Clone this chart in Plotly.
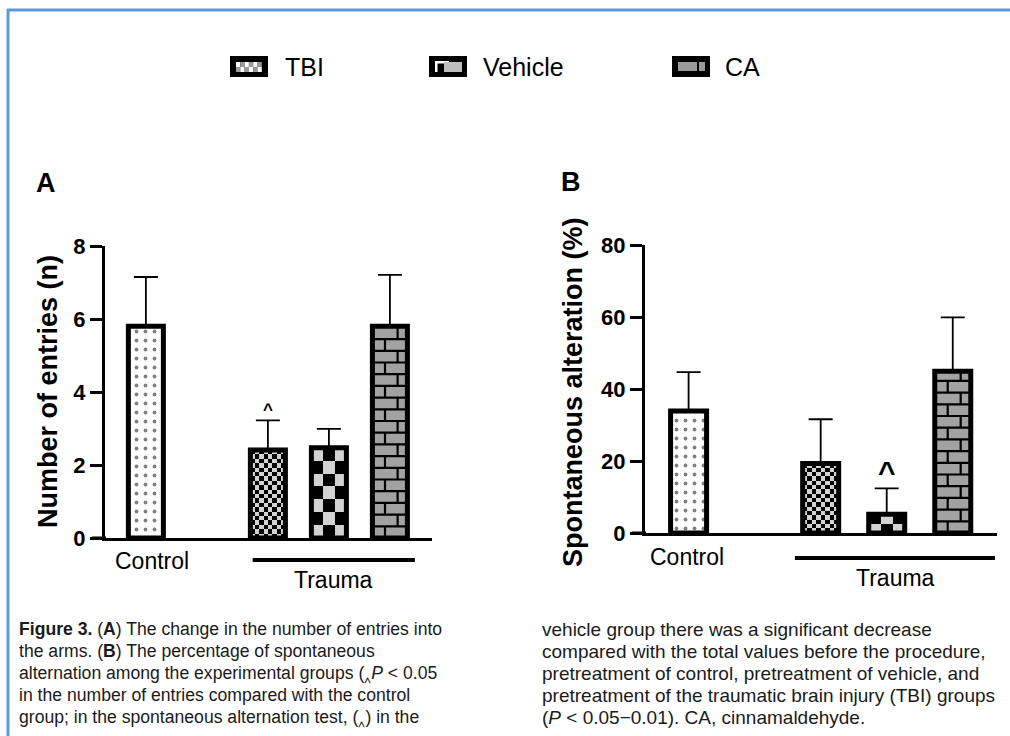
import numpy as np
import plotly.graph_objects as go

W, H = 1010, 736

# ---------------- data ----------------
groups = ["Control", "TBI", "Vehicle", "CA"]
group_pos = [0, 2, 3, 4]
entries_mean = [5.80, 2.41, 2.47, 5.80]
entries_err = [1.35, 0.81, 0.52, 1.41]
alt_mean = [33.9, 19.3, 5.2, 44.9]
alt_err = [10.8, 12.3, 7.2, 15.0]
ticks_a = [0, 2, 4, 6, 8]
ticks_b = [0, 20, 40, 60, 80]
sig_a = ["", "^", "", ""]
sig_b = ["", "", "^", ""]
legend_items = ["TBI", "Vehicle", "CA"]
caption_left = [
    "<b>Figure 3.</b> (<b>A</b>) The change in the number of entries into",
    "the arms. (<b>B</b>) The percentage of spontaneous",
    "alternation among the experimental groups (\u2038<i>P</i> < 0.05",
    "in the number of entries compared with the control",
    "group; in the spontaneous alternation test, (\u2038) in the",
]
caption_right = [
    "vehicle group there was a significant decrease",
    "compared with the total values before the procedure,",
    "pretreatment of control, pretreatment of vehicle, and",
    "pretreatment of the traumatic brain injury (TBI) groups",
    "(<i>P</i> < 0.05\u22120.01). CA, cinnamaldehyde.",
]


def X(px):
    return px / W


def Y(py):
    return 1 - py / H


ARIAL = "Liberation Sans, Arial, Helvetica, sans-serif"
CHECK_LIGHT = "#d2d2d2"
BRICK_GRAY = "#a2a2a2"

panels = [
    dict(name="A", xa="x", ya="y", xdom=(105, 432), ydom=(538, 246), xr=(-0.67, 4.69),
         yr=(0, 8), ticks=ticks_a, mean=entries_mean, err=entries_err, sig=sig_a,
         bw=0.574, title="Number of entries (n)", title_x=48, letter_xy=(46, 183),
         trauma=(1.75, 4.41, 560), ctrl_lab=(0.1, 561), trauma_lab=(3.07, 580),
         sig_size=17, sig_shift=11, vcell=12.5),
    dict(name="B", xa="x2", ya="y2", xdom=(645, 997), ydom=(533, 245), xr=(-0.66, 4.67),
         yr=(0, 80), ticks=ticks_b, mean=alt_mean, err=alt_err, sig=sig_b,
         bw=0.545, title="Spontaneous alteration (%)", title_x=573, letter_xy=(571, 182),
         trauma=(1.61, 4.64, 558), ctrl_lab=(-0.02, 557), trauma_lab=(3.13, 578),
         sig_size=30, sig_shift=17, vcell=11),
]

fig = go.Figure()
shapes = []
annotations = []

for p in panels:
    ppx = (p["xdom"][1] - p["xdom"][0]) / (p["xr"][1] - p["xr"][0])
    ppy = (p["ydom"][0] - p["ydom"][1]) / (p["yr"][1] - p["yr"][0])
    bw = p["bw"]
    for i, g in enumerate(groups):
        xc = group_pos[i]
        v = p["mean"][i]
        if g in ("TBI", "Vehicle"):
            cell = 4.4 if g == "TBI" else p["vcell"]
            ncol = max(1, int(round(bw * ppx / cell)))
            nrow = max(1, int(round(v * ppy / cell)))
            xe = np.linspace(xc - bw / 2, xc + bw / 2, ncol + 1)
            ye = np.linspace(0, v, nrow + 1)
            z = [[(r + c) % 2 for c in range(ncol)] for r in range(nrow)]
            fig.add_trace(go.Heatmap(x=xe, y=ye, z=z, zmin=0, zmax=1,
                                     colorscale=[[0, CHECK_LIGHT], [1, "black"]],
                                     showscale=False, hoverinfo="skip",
                                     xaxis=p["xa"], yaxis=p["ya"]))
        if g == "Control":
            marker = dict(color="white", line=dict(color="black", width=5),
                          pattern=dict(shape=".", fgcolor="black", bgcolor="white",
                                       size=9, solidity=0.14))
        elif g == "CA":
            marker = dict(color=BRICK_GRAY, line=dict(color="black", width=5))
        else:
            marker = dict(color="rgba(0,0,0,0)", line=dict(color="black", width=5))
        fig.add_trace(go.Bar(x=[xc], y=[v], width=bw, marker=marker,
                             error_y=dict(type="data", array=[p["err"][i]], arrayminus=[0],
                                          symmetric=False, color="black", thickness=1.8,
                                          width=12),
                             showlegend=False, hoverinfo="skip",
                             xaxis=p["xa"], yaxis=p["ya"]))
        if g == "CA":
            rh = 11.7 / ppy
            xs, ys = [], []
            k = 1
            while k * rh < v - 0.2 * rh:
                xs += [xc - bw / 2, xc + bw / 2, None]
                ys += [k * rh, k * rh, None]
                k += 1
            for r in range(k):
                y0 = r * rh
                y1 = min((r + 1) * rh, v)
                fx = 0.36 if r % 2 == 0 else 0.72
                xv = xc - bw / 2 + fx * bw
                xs += [xv, xv, None]
                ys += [y0, y1, None]
            fig.add_trace(go.Scatter(x=xs, y=ys, mode="lines",
                                     line=dict(color="black", width=2.2),
                                     showlegend=False, hoverinfo="skip",
                                     xaxis=p["xa"], yaxis=p["ya"]))
        if p["sig"][i]:
            annotations.append(dict(x=xc, y=v + p["err"][i], xref=p["xa"], yref=p["ya"],
                                    text="<b>^</b>", showarrow=False, yanchor="middle",
                                    yshift=p["sig_shift"],
                                    font=dict(family=ARIAL, size=p["sig_size"], color="black")))
    shapes.append(dict(type="line", xref="paper", yref="paper",
                       x0=X(p["xdom"][0] - 13), x1=X(p["xdom"][0] + 1),
                       y0=Y(p["ydom"][0]), y1=Y(p["ydom"][0]),
                       line=dict(color="black", width=3)))
    t0, t1, ty = p["trauma"]
    shapes.append(dict(type="line", xref=p["xa"], yref="paper", x0=t0, x1=t1,
                       y0=Y(ty), y1=Y(ty), line=dict(color="black", width=4)))
    annotations.append(dict(x=p["ctrl_lab"][0], y=Y(p["ctrl_lab"][1]), xref=p["xa"], yref="paper",
                            text="Control", showarrow=False, yanchor="middle",
                            font=dict(family=ARIAL, size=23, color="black")))
    annotations.append(dict(x=p["trauma_lab"][0], y=Y(p["trauma_lab"][1]), xref=p["xa"], yref="paper",
                            text="Trauma", showarrow=False, yanchor="middle",
                            font=dict(family=ARIAL, size=23, color="black")))
    annotations.append(dict(x=X(p["title_x"]), y=Y(392), xref="paper", yref="paper",
                            text=p["title"], textangle=-90, showarrow=False,
                            xanchor="center", yanchor="middle",
                            font=dict(family=ARIAL, size=27, color="black", weight="bold")))
    annotations.append(dict(x=X(p["letter_xy"][0]), y=Y(p["letter_xy"][1]), xref="paper", yref="paper",
                            text="<b>%s</b>" % p["name"], showarrow=False,
                            xanchor="center", yanchor="middle",
                            font=dict(family=ARIAL, size=27, color="black")))

# legend drawn manually
leg = [(230, 283), (429, 481), (672, 723)]
for (sx, tx), name in zip(leg, legend_items):
    shapes.append(dict(type="rect", xref="paper", yref="paper", x0=X(sx), x1=X(sx + 38),
                       y0=Y(77), y1=Y(56), fillcolor="black", line=dict(width=0)))
    if name == "TBI":
        for c in range(6):
            for r in range(2):
                col = "white" if (c + r) % 2 == 0 else "#9a9a9a"
                shapes.append(dict(type="rect", xref="paper", yref="paper",
                                   x0=X(sx + 6 + c * 4.3), x1=X(sx + 6 + (c + 1) * 4.3),
                                   y0=Y(62 + (r + 1) * 5), y1=Y(62 + r * 5),
                                   fillcolor=col, line=dict(width=0)))
    elif name == "Vehicle":
        shapes.append(dict(type="rect", xref="paper", yref="paper", x0=X(sx + 6), x1=X(sx + 20),
                           y0=Y(72), y1=Y(61), fillcolor="white", line=dict(width=0)))
        shapes.append(dict(type="rect", xref="paper", yref="paper", x0=X(sx + 8.5), x1=X(sx + 20),
                           y0=Y(72), y1=Y(63.5), fillcolor="black", line=dict(width=0)))
        shapes.append(dict(type="rect", xref="paper", yref="paper", x0=X(sx + 15), x1=X(sx + 33),
                           y0=Y(72), y1=Y(62), fillcolor="#bdbdbd", line=dict(width=0)))
    else:
        shapes.append(dict(type="rect", xref="paper", yref="paper", x0=X(sx + 6), x1=X(sx + 25),
                           y0=Y(71), y1=Y(62), fillcolor="#9a9a9a", line=dict(width=0)))
        shapes.append(dict(type="rect", xref="paper", yref="paper", x0=X(sx + 27), x1=X(sx + 33),
                           y0=Y(71), y1=Y(62), fillcolor="#9a9a9a", line=dict(width=0)))
    annotations.append(dict(x=X(tx), y=Y(67), xref="paper", yref="paper", text=name,
                            showarrow=False, xanchor="left", yanchor="middle",
                            font=dict(family=ARIAL, size=25, color="black")))

# caption
for k, line in enumerate(caption_left):
    annotations.append(dict(x=X(17), y=Y(629 + 22 * k), xref="paper", yref="paper", text=line,
                            showarrow=False, xanchor="left", yanchor="middle",
                            font=dict(family=ARIAL, size=17.6, color="#1a1a1a")))
for k, line in enumerate(caption_right):
    annotations.append(dict(x=X(540), y=Y(629 + 22 * k), xref="paper", yref="paper", text=line,
                            showarrow=False, xanchor="left", yanchor="middle",
                            font=dict(family=ARIAL, size=19, color="#1a1a1a")))

# blue frame
shapes.append(dict(type="line", xref="paper", yref="paper", x0=X(7), x1=1, y0=Y(10), y1=Y(10),
                   line=dict(color="#5b9bd5", width=3)))
shapes.append(dict(type="line", xref="paper", yref="paper", x0=X(8), x1=X(8), y0=Y(9), y1=0,
                   line=dict(color="#5b9bd5", width=3)))

axis_common = dict(showgrid=False, zeroline=False, showline=True, linecolor="black",
                   linewidth=3, automargin=False)
layout = dict(
    width=W, height=H, margin=dict(l=0, r=0, t=0, b=0, autoexpand=False),
    paper_bgcolor="white", plot_bgcolor="rgba(0,0,0,0)", barmode="overlay",
    showlegend=False, shapes=shapes, annotations=annotations,
)
for p in panels:
    xkey = "xaxis" if p["xa"] == "x" else "xaxis2"
    ykey = "yaxis" if p["ya"] == "y" else "yaxis2"
    layout[xkey] = dict(domain=[X(p["xdom"][0]), X(p["xdom"][1])], range=list(p["xr"]),
                        anchor=p["ya"], ticks="", showticklabels=False, **axis_common)
    layout[ykey] = dict(domain=[Y(p["ydom"][0]), Y(p["ydom"][1])], range=list(p["yr"]),
                        anchor=p["xa"], tickvals=p["ticks"], ticks="outside", ticklen=12,
                        tickwidth=3, tickcolor="black",
                        tickfont=dict(family=ARIAL, size=22, color="black", weight="bold"),
                        **axis_common)
fig.update_layout(**layout)
fig.write_html("out.html", config={"displayModeBar": False},
               post_script="document.body.style.margin='0';document.body.style.overflow='hidden';")
